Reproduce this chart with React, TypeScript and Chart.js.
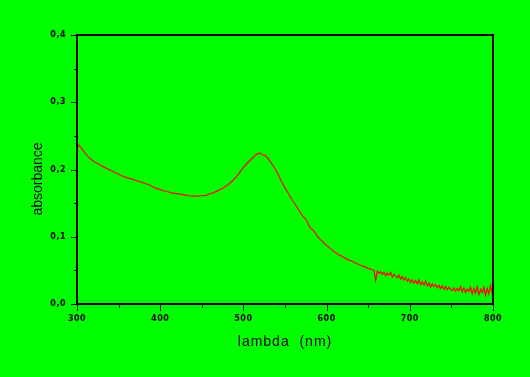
import React, { useEffect, useRef } from "react";
import { Chart, registerables } from "chart.js";

Chart.register(...registerables);

const wavelengths: number[] = [
  300, 305, 310, 315, 320, 325, 330, 335, 340, 345, 350, 355, 360, 365, 370, 375, 380, 385, 390, 395,
  400, 405, 410, 415, 420, 425, 430, 435, 440, 445, 450, 455, 460, 465, 470, 475, 480, 485, 490, 495,
  500, 505, 510, 515, 518, 520, 523, 526, 530, 535, 540, 545, 550, 555, 560, 565, 570, 575, 580, 585,
  590, 595, 600, 605, 610, 615, 620, 625, 630, 635, 640, 645, 650, 655, 657, 659, 661, 663, 665, 667,
  669, 671, 673, 675, 677, 679, 681, 683, 685, 687, 689, 691, 693, 695, 697, 699, 701, 703, 705, 707,
  709, 711, 713, 715, 717, 719, 721, 723, 725, 727, 729, 731, 733, 735, 737, 739, 741, 743, 745, 747,
  749, 751, 753, 755, 757, 759, 761, 763, 765, 767, 769, 771, 773, 775, 777, 779, 781, 783, 785, 787,
  789, 791, 793, 795, 797, 799, 800,
];

const absorbance: number[] = [
  0.239, 0.232, 0.224, 0.217, 0.212, 0.209, 0.205, 0.202, 0.199, 0.196, 0.193, 0.19, 0.188, 0.186, 0.184, 0.182, 0.18, 0.178, 0.175, 0.172,
  0.17, 0.168, 0.1665, 0.165, 0.164, 0.163, 0.162, 0.161, 0.1605, 0.1605, 0.161, 0.1615, 0.164, 0.166, 0.169, 0.172, 0.176, 0.181, 0.187, 0.195,
  0.203, 0.21, 0.216, 0.222, 0.224, 0.2245, 0.222, 0.221, 0.216, 0.207, 0.197, 0.184, 0.173, 0.162, 0.152, 0.143, 0.133, 0.126, 0.114, 0.108,
  0.099, 0.093, 0.087, 0.082, 0.077, 0.073, 0.07, 0.066, 0.064, 0.061, 0.058, 0.056, 0.053, 0.051, 0.05, 0.035, 0.049, 0.046, 0.048, 0.044,
  0.047, 0.042, 0.046, 0.043, 0.047, 0.04, 0.044, 0.041, 0.039, 0.043, 0.037, 0.041, 0.036, 0.039, 0.034, 0.037, 0.032, 0.036, 0.031, 0.035,
  0.03, 0.036, 0.029, 0.033, 0.028, 0.034, 0.027, 0.031, 0.025, 0.03, 0.026, 0.029, 0.024, 0.028, 0.023, 0.027, 0.022, 0.026, 0.021, 0.025,
  0.022, 0.02, 0.024, 0.019, 0.023, 0.02, 0.026, 0.018, 0.024, 0.017, 0.022, 0.019, 0.025, 0.015, 0.023, 0.016, 0.026, 0.014, 0.022, 0.017,
  0.025, 0.013, 0.023, 0.015, 0.027, 0.016, 0.02,
];

const xTitle = "lambda  (nm)";
const yTitle = "absorbance";

const frame = {
  id: "frame",
  beforeDraw(chart: any) {
    const ctx = chart.ctx;
    ctx.save();
    ctx.fillStyle = "#00ff00";
    ctx.fillRect(0, 0, chart.width, chart.height);
    ctx.restore();
    ctx.letterSpacing = "0.5px";
  },
  afterDraw(chart: any) {
    const ctx = chart.ctx;
    const { left, right, top, bottom } = chart.chartArea;
    const xs = chart.scales.x;
    const ys = chart.scales.y;
    ctx.save();
    ctx.strokeStyle = "#000";
    ctx.lineWidth = 1;
    ctx.beginPath();
    ys.ticks.forEach((t: any) => {
      const py = Math.round(ys.getPixelForValue(t.value)) + 0.5;
      const major = Math.abs(t.value * 10 - Math.round(t.value * 10)) < 1e-6;
      const len = major ? 6 : 3;
      ctx.moveTo(left - len, py);
      ctx.lineTo(left, py);
    });
    xs.ticks.forEach((t: any) => {
      const px = Math.round(xs.getPixelForValue(t.value)) + 0.5;
      const major = t.value % 100 === 0;
      const len = major ? 7 : 4;
      ctx.moveTo(px, bottom);
      ctx.lineTo(px, bottom + len);
    });
    ctx.stroke();
    ctx.lineWidth = 2;
    ctx.strokeRect(left, top, right - left, bottom - top);

    ctx.fillStyle = "#000";
    ctx.font = "14px 'Liberation Sans'";
    ctx.letterSpacing = "1px";
    ctx.textAlign = "center";
    ctx.textBaseline = "alphabetic";
    ctx.fillText(xTitle, (left + right) / 2, 345.5);
    ctx.letterSpacing = "0px";
    ctx.translate(42, 179);
    ctx.rotate(-Math.PI / 2);
    ctx.fillText(yTitle, 0, 0);
    ctx.restore();
  },
};

export default function App() {
  const ref = useRef<HTMLCanvasElement>(null);
  useEffect(() => {
    document.body.style.margin = "0";
    const points = wavelengths.map((w, i) => ({ x: w, y: absorbance[i] }));
    const chart = new Chart(ref.current!, {
      type: "line",
      data: {
        datasets: [
          {
            data: points,
            borderColor: "#ff0000",
            borderWidth: 1.2,
            pointRadius: 0,
            fill: false,
            tension: 0,
          },
        ],
      },
      options: {
        animation: false,
        responsive: false,
        devicePixelRatio: 1,
        layout: { padding: { left: 0, top: 35, right: 37, bottom: 0 } },
        plugins: { legend: { display: false }, tooltip: { enabled: false } },
        scales: {
          x: {
            type: "linear",
            min: 300,
            max: 800,
            grid: { display: false, tickLength: 0, drawTicks: false },
            border: { display: false },
            afterFit: (s: any) => {
              s.height = 73;
            },
            ticks: {
              stepSize: 50,
              autoSkip: false,
              maxRotation: 0,
              padding: 10,
              color: "#000",
              font: { family: "DejaVu Sans", size: 8, weight: "bold" },
              callback: (v: any) => (Number(v) % 100 === 0 ? String(v) : ""),
            },
          },
          y: {
            min: 0,
            max: 0.4,
            grid: { display: false, tickLength: 0, drawTicks: false },
            border: { display: false },
            afterFit: (s: any) => {
              s.width = 77;
            },
            ticks: {
              stepSize: 0.05,
              autoSkip: false,
              padding: 11,
              color: "#000",
              font: { family: "DejaVu Sans", size: 8, weight: "bold" },
              callback: (v: any) => {
                const n = Number(v);
                const major = Math.abs(n * 10 - Math.round(n * 10)) < 1e-6;
                return major ? n.toFixed(1).replace(".", ",") : "";
              },
            },
          },
        },
      },
      plugins: [frame],
    });
    return () => chart.destroy();
  }, []);
  return (
    <div style={{ position: "fixed", left: 0, top: 0, width: 530, height: 377, background: "#00ff00" }}>
      <canvas ref={ref} width={530} height={377} style={{ display: "block" }} />
    </div>
  );
}
